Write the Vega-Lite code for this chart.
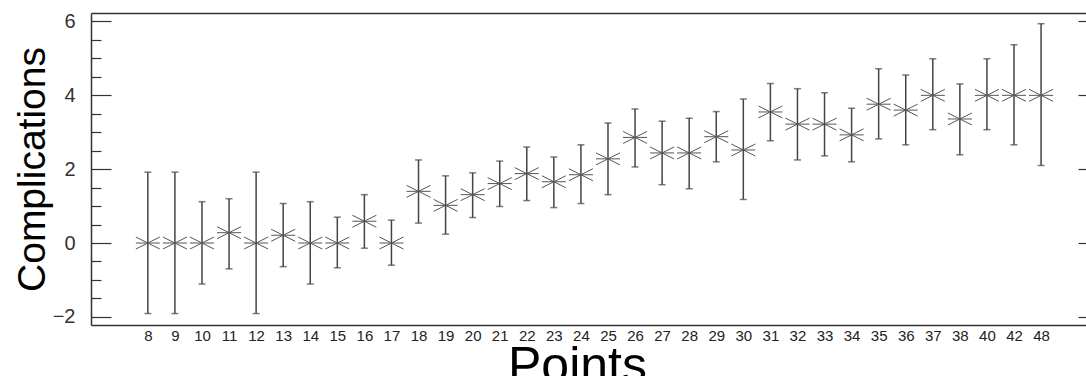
{
  "$schema": "https://vega.github.io/schema/vega-lite/v6.json",
  "width": 995,
  "height": 312,
  "autosize": {"type": "none"},
  "padding": {"left": 91, "top": 13, "right": 0, "bottom": 51},
  "background": "white",
  "config": {"view": {"stroke": null}, "font": "Liberation Sans"},
  "data": {"values": [
    {"i": 0, "Points": 8, "mean": 0, "lo": -1.91, "hi": 1.92},
    {"i": 1, "Points": 9, "mean": 0, "lo": -1.91, "hi": 1.92},
    {"i": 2, "Points": 10, "mean": 0, "lo": -1.11, "hi": 1.12},
    {"i": 3, "Points": 11, "mean": 0.28, "lo": -0.70, "hi": 1.20},
    {"i": 4, "Points": 12, "mean": 0, "lo": -1.91, "hi": 1.92},
    {"i": 5, "Points": 13, "mean": 0.21, "lo": -0.64, "hi": 1.07},
    {"i": 6, "Points": 14, "mean": 0, "lo": -1.11, "hi": 1.12},
    {"i": 7, "Points": 15, "mean": 0, "lo": -0.67, "hi": 0.70},
    {"i": 8, "Points": 16, "mean": 0.59, "lo": -0.14, "hi": 1.31},
    {"i": 9, "Points": 17, "mean": 0, "lo": -0.60, "hi": 0.62},
    {"i": 10, "Points": 18, "mean": 1.40, "lo": 0.54, "hi": 2.25},
    {"i": 11, "Points": 19, "mean": 1.02, "lo": 0.24, "hi": 1.82},
    {"i": 12, "Points": 20, "mean": 1.31, "lo": 0.69, "hi": 1.90},
    {"i": 13, "Points": 21, "mean": 1.61, "lo": 0.99, "hi": 2.22},
    {"i": 14, "Points": 22, "mean": 1.88, "lo": 1.15, "hi": 2.60},
    {"i": 15, "Points": 23, "mean": 1.66, "lo": 0.96, "hi": 2.33},
    {"i": 16, "Points": 24, "mean": 1.85, "lo": 1.07, "hi": 2.66},
    {"i": 17, "Points": 25, "mean": 2.28, "lo": 1.31, "hi": 3.25},
    {"i": 18, "Points": 26, "mean": 2.86, "lo": 2.06, "hi": 3.63},
    {"i": 19, "Points": 27, "mean": 2.44, "lo": 1.58, "hi": 3.30},
    {"i": 20, "Points": 28, "mean": 2.44, "lo": 1.47, "hi": 3.38},
    {"i": 21, "Points": 29, "mean": 2.88, "lo": 2.20, "hi": 3.56},
    {"i": 22, "Points": 30, "mean": 2.52, "lo": 1.18, "hi": 3.90},
    {"i": 23, "Points": 31, "mean": 3.55, "lo": 2.77, "hi": 4.32},
    {"i": 24, "Points": 32, "mean": 3.22, "lo": 2.25, "hi": 4.18},
    {"i": 25, "Points": 33, "mean": 3.22, "lo": 2.36, "hi": 4.07},
    {"i": 26, "Points": 34, "mean": 2.93, "lo": 2.20, "hi": 3.65},
    {"i": 27, "Points": 35, "mean": 3.76, "lo": 2.82, "hi": 4.72},
    {"i": 28, "Points": 36, "mean": 3.60, "lo": 2.66, "hi": 4.55},
    {"i": 29, "Points": 37, "mean": 4.0, "lo": 3.07, "hi": 4.99},
    {"i": 30, "Points": 38, "mean": 3.36, "lo": 2.39, "hi": 4.31},
    {"i": 31, "Points": 40, "mean": 4.0, "lo": 3.07, "hi": 4.99},
    {"i": 32, "Points": 42, "mean": 4.0, "lo": 2.66, "hi": 5.37},
    {"i": 33, "Points": 48, "mean": 4.0, "lo": 2.10, "hi": 5.94}
  ]},
  "resolve": {"axis": {"x": "independent", "y": "independent"}},
  "layer": [
    {
      "mark": {"type": "rule", "color": "#444", "strokeWidth": 1.5},
      "encoding": {
        "x": {"field": "i", "type": "quantitative",
              "scale": {"domain": [-2.1, 34.66], "nice": false, "zero": false},
              "axis": {"orient": "bottom", "labelAngle": 0, "ticks": false, "grid": false, "domainColor": "#333", "domainWidth": 1.5,
                       "values": [0,1,2,3,4,5,6,7,8,9,10,11,12,13,14,15,16,17,18,19,20,21,22,23,24,25,26,27,28,29,30,31,32,33],
                       "labelExpr": "['8','9','10','11','12','13','14','15','16','17','18','19','20','21','22','23','24','25','26','27','28','29','30','31','32','33','34','35','36','37','38','40','42','48'][datum.value]",
                       "labelFontSize": 15, "labelColor": "#222", "labelPadding": 3, "labelOverlap": false,
                       "title": "Points", "titleFontSize": 50, "titleFontWeight": "normal", "titleColor": "#000", "titlePadding": -2, "titleX": 486}},
        "y": {"field": "lo", "type": "quantitative",
              "scale": {"domain": [-2.22, 6.23], "nice": false, "zero": false},
              "axis": {"orient": "left", "grid": false,
                       "values": [-2, -1.5, -1, -0.5, 0, 0.5, 1, 1.5, 2, 2.5, 3, 3.5, 4, 4.5, 5, 5.5, 6],
                       "tickSize": {"condition": {"test": "datum.value % 2 === 0", "value": -20}, "value": -10},
                       "tickColor": "#333", "tickWidth": 1.2,
                       "labelExpr": "datum.value % 2 === 0 ? format(datum.value, 'd') : ''",
                       "domainColor": "#333", "domainWidth": 1.5,
                       "labelFontSize": 20, "labelColor": "#333", "labelPadding": 36,
                       "title": "Complications", "titleFontSize": 39, "titleFontWeight": "normal", "titleColor": "#000", "titlePadding": 0}},
        "y2": {"field": "hi"}
      }
    },
    {
      "mark": {"type": "tick", "orient": "horizontal", "color": "#444", "size": 7, "thickness": 1.5},
      "encoding": {
        "x": {"field": "i", "type": "quantitative", "axis": null},
        "y": {"field": "lo", "type": "quantitative", "axis": null}
      }
    },
    {
      "mark": {"type": "tick", "orient": "horizontal", "color": "#444", "size": 7, "thickness": 1.5},
      "encoding": {
        "x": {"field": "i", "type": "quantitative", "axis": null},
        "y": {"field": "hi", "type": "quantitative", "axis": null}
      }
    },
    {
      "mark": {"type": "point", "shape": "M-1,0L1,0M-1,-0.5L1,0.5M-1,0.5L1,-0.5", "size": 576, "filled": false, "stroke": "#555", "strokeWidth": 1, "opacity": 1},
      "encoding": {
        "x": {"field": "i", "type": "quantitative",
              "axis": {"orient": "top", "labels": false, "ticks": false, "grid": false, "title": null, "domainColor": "#333", "domainWidth": 1.5}},
        "y": {"field": "mean", "type": "quantitative",
              "axis": {"orient": "right", "grid": false, "values": [-2, 0, 2, 4, 6], "tickSize": -8, "tickColor": "#333", "tickWidth": 1.2,
                       "labels": false, "domain": false, "title": null}}
      }
    }
  ]
}
